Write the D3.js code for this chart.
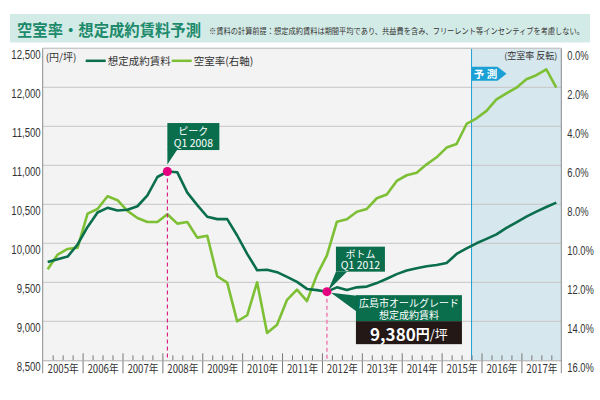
<!DOCTYPE html>
<html>
<head>
<meta charset="utf-8">
<script src="https://cdn.jsdelivr.net/npm/d3@7"></script>
<style>
  body { margin: 0; background: #fff; }
  text { font-family: "Noto Sans CJK JP", "Noto Sans", sans-serif; }
  .num { font-family: "Liberation Sans", "DejaVu Sans", sans-serif; }
</style>
</head>
<body>
<div class="chart"></div>
<script>
// years and quarters on the x axis
var years = [2005, 2006, 2007, 2008, 2009, 2010, 2011, 2012, 2013, 2014, 2015, 2016, 2017];
var quarterNames = ["Q1", "Q2", "Q3", "Q4"];

// 想定成約賃料 (円/坪), quarterly 2005Q1 - 2017Q4
var rent = [
  9760, 9795, 9830, 9985,
  10210, 10395, 10455, 10420,
  10430, 10475, 10615, 10850,
  10920, 10910, 10650, 10490,
  10340, 10310, 10310, 10100,
  9865, 9655, 9660, 9630,
  9570, 9505, 9415, 9400,
  9380, 9435, 9400, 9435,
  9445, 9490, 9545, 9605,
  9650, 9680, 9705, 9722,
  9748, 9863, 9936, 10000,
  10056, 10115, 10197, 10269,
  10342, 10406, 10466, 10521
];

// 空室率 (%), right axis, inverted
var vacancy = [
  11.33, 10.58, 10.29, 10.22,
  8.48, 8.24, 7.59, 7.79,
  8.34, 8.70, 8.91, 8.91,
  8.51, 8.99, 8.91, 9.71,
  9.61, 11.69, 12.02, 14.0,
  13.69, 12.0, 14.6, 14.18,
  12.9, 12.38, 12.96, 11.62,
  10.62, 8.89, 8.77, 8.38,
  8.24, 7.69, 7.50, 6.80,
  6.51, 6.38, 5.95, 5.59,
  5.09, 4.91, 3.88, 3.59,
  3.21, 2.62, 2.31, 2.02,
  1.59, 1.38, 1.08, 2.02
];

var rentTicks = [8500, 9000, 9500, 10000, 10500, 11000, 11500, 12000, 12500];
var vacancyTicks = [0, 2, 4, 6, 8, 10, 12, 14, 16];

var peakIndex = 12;      // Q1 2008
var bottomIndex = 28;    // Q1 2012
var forecastStart = 2015.75;

var svgWidth = 600;
var svgHeight = 400;
var margin = {top: 48.3, right: 38.7, bottom: 39.7, left: 42.7};
var width = svgWidth - margin.left - margin.right;
var height = svgHeight - margin.top - margin.bottom;

var darkGreen = "#0a6e4d";
var lightGreen = "#7dbf35";
var pink = "#e4007f";

var quarters = [];
years.forEach(function(y) {
  quarterNames.forEach(function(q, qi) {
    quarters.push({year: y, q: qi});
  });
});

var svg = d3.select(".chart")
  .append("svg")
  .attr("width", svgWidth)
  .attr("height", svgHeight);

svg.append("rect").attr("width", svgWidth).attr("height", svgHeight).attr("fill", "#fff");

// title band
svg.append("rect")
  .attr("x", 10).attr("y", 14)
  .attr("width", 580).attr("height", 28.5)
  .attr("fill", "#d3ebe7");

svg.append("text")
  .attr("x", 17).attr("y", 28.5)
  .attr("dominant-baseline", "central")
  .attr("font-size", 16)
  .attr("font-weight", "bold")
  .attr("fill", "#1c8a6b")
  .attr("textLength", 184)
  .attr("lengthAdjust", "spacingAndGlyphs")
  .text("空室率・想定成約賃料予測");

svg.append("text")
  .attr("x", 209).attr("y", 30)
  .attr("dominant-baseline", "central")
  .attr("font-size", 8.2)
  .attr("fill", "#333")
  .attr("textLength", 375)
  .attr("lengthAdjust", "spacingAndGlyphs")
  .text("※賃料の計算前提：想定成約賃料は期間平均であり、共益費を含み、フリーレント等インセンティブを考慮しない。");

var chart = svg.append("g")
  .attr("transform", "translate(" + margin.left + "," + margin.top + ")");

var x = d3.scaleLinear().domain([years[0], years[years.length - 1] + 1]).range([0, width]);
var yLeft = d3.scaleLinear().domain([8500, 12500]).range([height, 0]);
var yRight = d3.scaleLinear().domain([0, 16]).range([0, height]);

function qx(d) { return x(d.year + (d.q + 0.5) / 4); }

// narrow the numeric labels like the condensed face of the original
function condense(sel, k) {
  sel.each(function() {
    var w = this.getComputedTextLength();
    d3.select(this).attr("textLength", w * k).attr("lengthAdjust", "spacingAndGlyphs");
  });
}

// plot background and forecast zone
chart.append("rect").attr("width", width).attr("height", height).attr("fill", "#f3f3f3");
chart.append("rect")
  .attr("x", x(forecastStart)).attr("y", 0)
  .attr("width", width - x(forecastStart)).attr("height", height)
  .attr("fill", "#d7e7ee");

// grid
chart.append("g")
  .selectAll("line")
  .data(rentTicks.slice(1))
  .enter()
  .append("line")
  .attr("x1", 0).attr("x2", width)
  .attr("y1", function(d) { return yLeft(d); })
  .attr("y2", function(d) { return yLeft(d); })
  .attr("stroke", "#c6c6c6")
  .attr("stroke-width", 1);

chart.append("line")
  .attr("x1", x(forecastStart)).attr("x2", x(forecastStart))
  .attr("y1", 0).attr("y2", height)
  .attr("stroke", "#1ea2d4").attr("stroke-width", 1);

// x axis: minor quarter ticks, major year ticks, year labels
var minorTicks = quarters.filter(function(d) { return d.q > 0; })
  .map(function(d) { return d.year + d.q / 4; });
var majorTicks = years.slice(1);

chart.append("g")
  .attr("transform", "translate(0," + height + ")")
  .call(d3.axisTop(x).tickValues(minorTicks).tickSize(5).tickFormat(""))
  .call(function(g) { g.select(".domain").remove(); g.selectAll("line").attr("stroke", "#777"); });

chart.append("g")
  .attr("transform", "translate(0," + (height - 7) + ")")
  .call(d3.axisBottom(x).tickValues(majorTicks).tickSize(20).tickFormat(""))
  .call(function(g) { g.select(".domain").remove(); g.selectAll("line").attr("stroke", "#777"); });

chart.append("g")
  .attr("transform", "translate(0," + height + ")")
  .call(d3.axisBottom(x).tickValues(years.map(function(y) { return y + 0.5; }))
    .tickSize(0).tickFormat(function(d) { return Math.floor(d) + "年"; }))
  .call(function(g) {
    g.select(".domain").attr("stroke", "#aaa");
    g.selectAll("text")
      .attr("y", 8).attr("dy", 0)
      .attr("dominant-baseline", "central")
      .attr("font-size", 11.5)
      .attr("fill", "#333")
      .call(condense, 0.84);
  });

// side axes
[0, width].forEach(function(xx) {
  chart.append("line")
    .attr("x1", xx).attr("x2", xx)
    .attr("y1", 0).attr("y2", height + 13)
    .attr("stroke", "#8a8a8a").attr("stroke-width", 1);
});
chart.append("line")
  .attr("x1", 0).attr("x2", width).attr("y1", 0).attr("y2", 0)
  .attr("stroke", "#c6c6c6");

chart.append("g")
  .call(d3.axisLeft(yLeft).tickValues(rentTicks).tickSize(0).tickPadding(2).tickFormat(d3.format(",")))
  .call(function(g) {
    g.select(".domain").remove();
    g.selectAll("text")
      .attr("class", "num")
      .attr("dy", 0).attr("y", 6.5)
      .attr("dominant-baseline", "central")
      .attr("font-size", 12)
      .attr("fill", "#333")
      .call(condense, 0.8);
  });

chart.append("g")
  .attr("transform", "translate(" + width + ",0)")
  .call(d3.axisRight(yRight).tickValues(vacancyTicks).tickSize(0).tickPadding(6)
    .tickFormat(function(d) { return d3.format(".1f")(d) + "%"; }))
  .call(function(g) {
    g.select(".domain").remove();
    g.selectAll("text")
      .attr("class", "num")
      .attr("dy", 0).attr("y", 7)
      .attr("dominant-baseline", "central")
      .attr("font-size", 12)
      .attr("fill", "#333")
      .call(condense, 0.78);
  });

// unit and legend
chart.append("text")
  .attr("x", 3).attr("y", 8)
  .attr("dominant-baseline", "central")
  .attr("font-size", 10).attr("fill", "#333")
  .text("(円/坪)");

var legendItems = [
  {label: "想定成約賃料", color: darkGreen, x: 43},
  {label: "空室率(右軸)", color: lightGreen, x: 129}
];
var legend = chart.selectAll(".legend").data(legendItems).enter().append("g");
legend.append("line")
  .attr("x1", function(d) { return d.x; })
  .attr("x2", function(d) { return d.x + 20; })
  .attr("y1", 12.5).attr("y2", 12.5)
  .attr("stroke", function(d) { return d.color; })
  .attr("stroke-width", 2.5);
legend.append("text")
  .attr("x", function(d) { return d.x + 22; })
  .attr("y", 12.5)
  .attr("dominant-baseline", "central")
  .attr("font-size", 10.5).attr("fill", "#333")
  .text(function(d) { return d.label; });

chart.append("text")
  .attr("x", width - 4).attr("y", 7.5)
  .attr("text-anchor", "end")
  .attr("dominant-baseline", "central")
  .attr("font-size", 9).attr("fill", "#333")
  .text("(空室率 反転)");

// 予測 tag
var fx = x(forecastStart);
chart.append("path")
  .attr("d", "M" + fx + ",18.5 h26 l9,7 l-9,7 h-26 z")
  .attr("fill", "#1aa0d4");
chart.append("text")
  .attr("x", fx + 14).attr("y", 25.7)
  .attr("text-anchor", "middle").attr("dominant-baseline", "central")
  .attr("font-size", 10.5).attr("font-weight", "bold").attr("fill", "#fff")
  .text("予 測");

// lines
var rentLine = d3.line()
  .x(function(d, i) { return qx(quarters[i]); })
  .y(function(d) { return yLeft(d); });
var vacLine = d3.line()
  .x(function(d, i) { return qx(quarters[i]); })
  .y(function(d) { return yRight(d); });

chart.append("path").datum(vacancy)
  .attr("d", vacLine).attr("fill", "none")
  .attr("stroke", lightGreen).attr("stroke-width", 2.6).attr("stroke-linejoin", "round");

chart.append("path").datum(rent)
  .attr("d", rentLine).attr("fill", "none")
  .attr("stroke", darkGreen).attr("stroke-width", 2.6).attr("stroke-linejoin", "round");

// peak annotation
var pk = {x: qx(quarters[peakIndex]), y: yLeft(rent[peakIndex])};
chart.append("line")
  .attr("x1", pk.x).attr("x2", pk.x).attr("y1", pk.y).attr("y2", height)
  .attr("stroke", "#d6006f").attr("stroke-width", 1).attr("stroke-dasharray", "4,3");
chart.append("path")
  .attr("d", "M" + pk.x + "," + (pk.y - 22) + " h10 L" + pk.x + "," + (pk.y - 7) + " z")
  .attr("fill", darkGreen);
chart.append("rect")
  .attr("x", pk.x).attr("y", pk.y - 48.5)
  .attr("width", 52).attr("height", 27)
  .attr("fill", darkGreen);
chart.append("text")
  .attr("x", pk.x + 26).attr("y", pk.y - 41.5)
  .attr("text-anchor", "middle").attr("dominant-baseline", "central")
  .attr("font-size", 10).attr("fill", "#fff")
  .text("ピーク");
chart.append("text")
  .attr("x", pk.x + 26).attr("y", pk.y - 29)
  .attr("text-anchor", "middle").attr("dominant-baseline", "central")
  .attr("font-size", 10.5).attr("fill", "#fff")
  .text("Q1 2008");
chart.append("circle").attr("cx", pk.x).attr("cy", pk.y).attr("r", 4.5).attr("fill", pink);

// bottom annotation
var bt = {x: qx(quarters[bottomIndex]), y: yLeft(rent[bottomIndex])};
chart.append("line")
  .attr("x1", bt.x).attr("x2", bt.x).attr("y1", bt.y).attr("y2", height)
  .attr("stroke", "#f07fb4").attr("stroke-width", 1.5).attr("stroke-dasharray", "4,3");
chart.append("path")
  .attr("d", "M" + (bt.x + 9) + "," + (bt.y - 20) + " h11 L" + (bt.x + 1) + "," + (bt.y - 1) + " z")
  .attr("fill", darkGreen);
chart.append("rect")
  .attr("x", bt.x + 9).attr("y", bt.y - 45)
  .attr("width", 49).attr("height", 25)
  .attr("fill", darkGreen);
chart.append("text")
  .attr("x", bt.x + 33.5).attr("y", bt.y - 38.5)
  .attr("text-anchor", "middle").attr("dominant-baseline", "central")
  .attr("font-size", 10).attr("fill", "#fff")
  .text("ボトム");
chart.append("text")
  .attr("x", bt.x + 33.5).attr("y", bt.y - 27)
  .attr("text-anchor", "middle").attr("dominant-baseline", "central")
  .attr("font-size", 10.5).attr("fill", "#fff")
  .text("Q1 " + years[Math.floor(bottomIndex / 4)]);

// 広島市 callout
chart.append("path")
  .attr("d", "M" + (bt.x + 4) + "," + (bt.y + 1) + " L" + (bt.x + 30) + "," + (bt.y + 4) +
    " L" + (bt.x + 30) + "," + (bt.y + 20) + " z")
  .attr("fill", darkGreen);
chart.append("rect")
  .attr("x", bt.x + 29).attr("y", bt.y + 3.5)
  .attr("width", 106).attr("height", 26)
  .attr("fill", darkGreen);
chart.append("rect")
  .attr("x", bt.x + 29).attr("y", bt.y + 29.5)
  .attr("width", 106).attr("height", 23)
  .attr("fill", "#231815");
chart.append("text")
  .attr("x", bt.x + 82).attr("y", bt.y + 10.5)
  .attr("text-anchor", "middle").attr("dominant-baseline", "central")
  .attr("font-size", 10).attr("fill", "#fff")
  .text("広島市オールグレード");
chart.append("text")
  .attr("x", bt.x + 82).attr("y", bt.y + 22.5)
  .attr("text-anchor", "middle").attr("dominant-baseline", "central")
  .attr("font-size", 10).attr("fill", "#fff")
  .text("想定成約賃料");
var big = chart.append("text")
  .attr("x", bt.x + 82).attr("y", bt.y + 41.5)
  .attr("text-anchor", "middle").attr("dominant-baseline", "central")
  .attr("fill", "#fff");
big.append("tspan").attr("font-size", 17).attr("font-weight", "bold").text(d3.format(",")(rent[bottomIndex]));
big.append("tspan").attr("font-size", 14).attr("font-weight", "bold").text("円");
big.append("tspan").attr("font-size", 13).text("/坪");
chart.append("circle").attr("cx", bt.x).attr("cy", bt.y).attr("r", 4.5).attr("fill", pink);
</script>
</body>
</html>
